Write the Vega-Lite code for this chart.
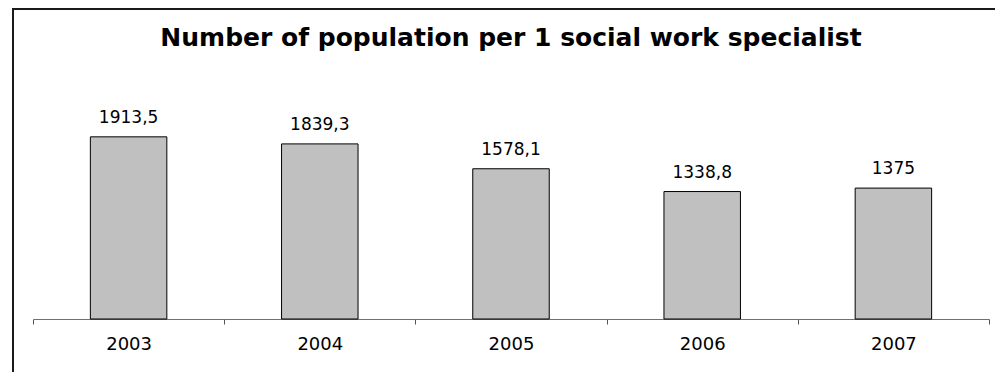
{
  "$schema": "https://vega.github.io/schema/vega-lite/v6.json",
  "width": 982,
  "height": 363,
  "autosize": {"type": "none"},
  "padding": {"left": 13, "top": 9, "right": 0, "bottom": 0},
  "background": "white",
  "title": {
    "text": "Number of population per 1 social work specialist",
    "font": "DejaVu Sans",
    "fontSize": 25,
    "fontWeight": "bold",
    "color": "#000000",
    "anchor": "middle",
    "frame": "group",
    "baseline": "alphabetic",
    "offset": -62,
    "dx": 7
  },
  "data": {
    "values": [
      {"year": "2003", "value": 1913.5},
      {"year": "2004", "value": 1839.3},
      {"year": "2005", "value": 1578.1},
      {"year": "2006", "value": 1338.8},
      {"year": "2007", "value": 1375}
    ]
  },
  "encoding": {
    "x": {
      "field": "year",
      "type": "ordinal",
      "sort": null,
      "scale": {"range": [20, 976], "paddingInner": 0, "paddingOuter": 0},
      "axis": {
        "title": null,
        "orient": "bottom",
        "offset": -53,
        "tickBand": "extent",
        "tickSize": 5,
        "tickColor": "#555555",
        "domainColor": "#707070",
        "domainWidth": 1,
        "labelFont": "DejaVu Sans",
        "labelFontSize": 18,
        "labelColor": "#000000",
        "labelBaseline": "alphabetic",
        "labelPadding": 25,
        "labelAngle": 0
      }
    },
    "y": {
      "field": "value",
      "type": "quantitative",
      "scale": {"domain": [0, 2500], "range": [310, 72]},
      "axis": null
    }
  },
  "layer": [
    {"mark": {"type": "bar", "width": {"band": 0.4}, "fill": "#c0c0c0", "stroke": "#000000", "strokeWidth": 1}},
    {
      "mark": {"type": "text", "baseline": "alphabetic", "dy": -14, "font": "DejaVu Sans", "fontSize": 17, "color": "#000000"},
      "encoding": {"text": {"field": "value", "type": "quantitative", "format": ".1~f"}}
    }
  ],
  "config": {
    "locale": {
      "number": {"decimal": ",", "thousands": " ", "grouping": [3], "currency": ["", ""]}
    },
    "view": {"stroke": "#1a1a1a", "strokeWidth": 2, "strokeDash": [982, 1345, 364, 10]}
  }
}
